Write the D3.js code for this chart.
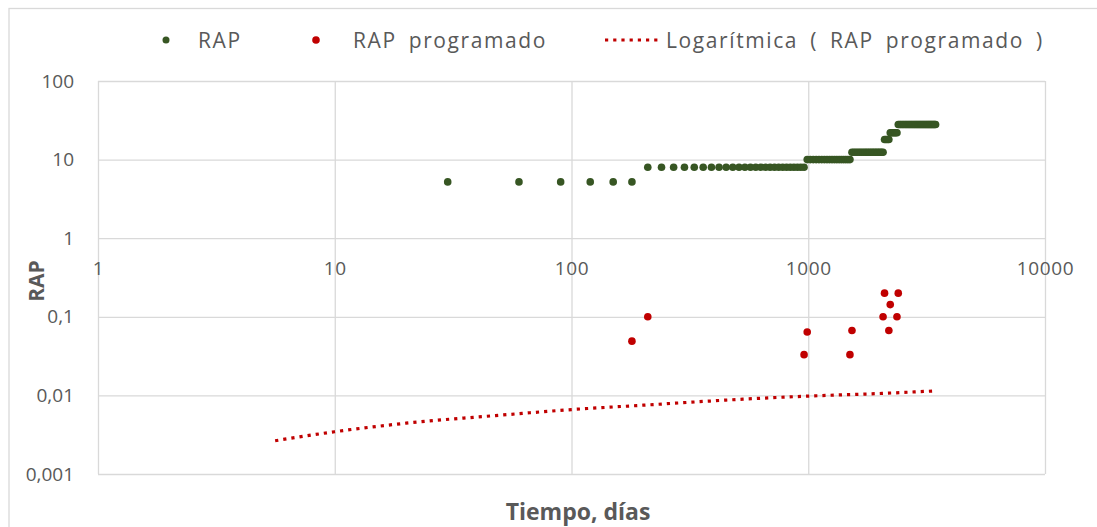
<!DOCTYPE html>
<html>
<head>
<meta charset="utf-8">
<script src="https://cdn.jsdelivr.net/npm/d3@7"></script>
<style>
  body { margin: 0; background: #fff; }
  text { font-family: "Open Sans", sans-serif; }
</style>
</head>
<body>
<div class="chart"></div>
<script>
var w = 1097;
var h = 527;

// RAP (monthly readings)
var rapDays = [30, 60, 90, 120, 150, 180,
  210, 240, 270, 300, 330, 360, 390, 420, 450, 480, 510, 540, 570, 600, 630, 660, 690, 720, 750, 780, 810, 840, 870, 900, 930, 960,
  990, 1020, 1050, 1080, 1110, 1140, 1170, 1200, 1230, 1260, 1290, 1320, 1350, 1380, 1410, 1440, 1470, 1500,
  1530, 1560, 1590, 1620, 1650, 1680, 1710, 1740, 1770, 1800, 1830, 1860, 1890, 1920, 1950, 1980, 2010, 2040, 2070,
  2100, 2130, 2160, 2190,
  2220, 2250, 2280, 2310, 2340, 2370,
  2400, 2430, 2460, 2490, 2520, 2550, 2580, 2610, 2640, 2670, 2700, 2730, 2760, 2790, 2820, 2850, 2880, 2910, 2940, 2970,
  3000, 3030, 3060, 3090, 3120, 3150, 3180, 3210, 3240, 3270, 3300, 3330, 3360, 3390, 3420, 3450];
var rapValues = [5.2, 5.2, 5.2, 5.2, 5.2, 5.2,
  8, 8, 8, 8, 8, 8, 8, 8, 8, 8, 8, 8, 8, 8, 8, 8, 8, 8, 8, 8, 8, 8, 8, 8, 8, 8,
  10, 10, 10, 10, 10, 10, 10, 10, 10, 10, 10, 10, 10, 10, 10, 10, 10, 10,
  12.4, 12.4, 12.4, 12.4, 12.4, 12.4, 12.4, 12.4, 12.4, 12.4, 12.4, 12.4, 12.4, 12.4, 12.4, 12.4, 12.4, 12.4, 12.4,
  18, 18, 18, 18,
  22, 22, 22, 22, 22, 22,
  28, 28, 28, 28, 28, 28, 28, 28, 28, 28, 28, 28, 28, 28, 28, 28, 28, 28, 28, 28,
  28, 28, 28, 28, 28, 28, 28, 28, 28, 28, 28, 28, 28, 28, 28, 28];

// RAP programado
var progDays = [180, 210, 960, 990, 1500, 1530, 2070, 2100, 2190, 2220, 2370, 2400];
var progValues = [0.049, 0.1, 0.033, 0.064, 0.033, 0.067, 0.1, 0.2, 0.067, 0.143, 0.1, 0.2];

// Logarítmica (RAP programado)
var trendDays = [5.6, 10, 20, 50, 100, 200, 500, 1000, 2000, 3430];
var trendValues = [0.00265, 0.00345, 0.00443, 0.0056, 0.0066, 0.0075, 0.00887, 0.0098, 0.01057, 0.0114];

var xTicks = [1, 10, 100, 1000, 10000];
var yTicks = [100, 10, 1, 0.1, 0.01, 0.001];
var yTickLabels = ["100", "10", "1", "0,1", "0,01", "0,001"];

var legendLabels = ["RAP", "RAP programado", "Logarítmica ( RAP programado )"];

var green = "#375623";
var red = "#C00000";
var grid = "#d9d9d9";
var textColor = "#595959";

var xScale = d3.scaleLog()
                .domain([1, 10000])
                .range([98, 1045]);

var yScale = d3.scaleLog()
                .domain([0.001, 100])
                .range([474, 81]);

var svg = d3.select(".chart")
            .append("svg")
            .attr("width", w)
            .attr("height", h);

// chart border
svg.append("rect")
    .attr("x", 9)
    .attr("y", 8.5)
    .attr("width", w + 20)
    .attr("height", h + 20)
    .attr("fill", "#fff")
    .attr("stroke", grid)
    .attr("stroke-width", 1.3);

// gridlines
svg.append("g")
    .attr("transform", "translate(" + xScale(1) + ",0)")
    .call(d3.axisLeft(yScale).tickValues(yTicks).tickSize(-(xScale(10000) - xScale(1))).tickFormat(""))
    .call(function (g) {
        g.select(".domain").remove();
        g.selectAll("line").attr("stroke", grid).attr("stroke-width", 1.3);
    });

svg.append("g")
    .attr("transform", "translate(0," + yScale(100) + ")")
    .call(d3.axisBottom(xScale).tickValues(xTicks).tickSize(yScale(0.001) - yScale(100)).tickFormat(""))
    .call(function (g) {
        g.select(".domain").remove();
        g.selectAll("line").attr("stroke", grid).attr("stroke-width", 1.3);
    });

// y tick labels
svg.append("g")
    .attr("transform", "translate(" + xScale(1) + ",0)")
    .call(d3.axisLeft(yScale).tickValues(yTicks).tickSize(0).tickPadding(24)
        .tickFormat(function (d, i) { return yTickLabels[i]; }))
    .call(function (g) {
        g.select(".domain").remove();
        g.selectAll("text")
            .attr("font-family", "'Open Sans', sans-serif")
            .attr("font-size", "19px")
            .attr("fill", textColor);
    });

// x tick labels, sitting under the y = 1 line
svg.append("g")
    .attr("transform", "translate(0," + yScale(1) + ")")
    .call(d3.axisBottom(xScale).tickValues(xTicks).tickSize(0).tickPadding(23)
        .tickFormat(function (d) { return String(d); }))
    .call(function (g) {
        g.select(".domain").remove();
        g.selectAll("text")
            .attr("font-family", "'Open Sans', sans-serif")
            .attr("font-size", "19px")
            .attr("letter-spacing", "0.6px")
            .attr("fill", textColor);
    });

// trendline
var trend = d3.range(trendDays.length).map(function (i) { return [trendDays[i], trendValues[i]]; });
svg.append("path")
    .datum(trend)
    .attr("d", d3.line()
        .x(function (d) { return xScale(d[0]); })
        .y(function (d) { return yScale(d[1]); })
        .curve(d3.curveMonotoneX))
    .attr("fill", "none")
    .attr("stroke", red)
    .attr("stroke-width", 3.2)
    .attr("stroke-dasharray", "3.2,5");

// RAP
svg.selectAll("circle.rap")
    .data(rapDays)
    .enter()
    .append("circle")
    .attr("class", "rap")
    .attr("cx", function (d) { return xScale(d); })
    .attr("cy", function (d, i) { return yScale(rapValues[i]); })
    .attr("r", 3.8)
    .attr("fill", green);

// RAP programado
svg.selectAll("circle.prog")
    .data(progDays)
    .enter()
    .append("circle")
    .attr("class", "prog")
    .attr("cx", function (d) { return xScale(d); })
    .attr("cy", function (d, i) { return yScale(progValues[i]); })
    .attr("r", 3.8)
    .attr("fill", red);

// axis titles
svg.append("text")
    .text("Tiempo, días")
    .attr("x", 578)
    .attr("y", 520)
    .attr("text-anchor", "middle")
    .attr("font-size", "23px")
    .attr("font-weight", "bold")
    .attr("fill", textColor);

svg.append("text")
    .text("RAP")
    .attr("transform", "translate(44,281) rotate(-90)")
    .attr("text-anchor", "middle")
    .attr("font-size", "21px")
    .attr("font-weight", "bold")
    .attr("fill", textColor);

// legend
var legend = svg.append("g");
legend.append("circle").attr("cx", 166).attr("cy", 40).attr("r", 3.5).attr("fill", green);
legend.append("circle").attr("cx", 316).attr("cy", 40).attr("r", 3.8).attr("fill", red);
legend.append("line")
    .attr("x1", 605).attr("x2", 661)
    .attr("y1", 40).attr("y2", 40)
    .attr("stroke", red)
    .attr("stroke-width", 3.2)
    .attr("stroke-dasharray", "3.2,5");

var legendX = [198, 353, 666];
legend.selectAll("text")
    .data(legendLabels)
    .enter()
    .append("text")
    .text(function (d) { return d; })
    .attr("x", function (d, i) { return legendX[i]; })
    .attr("y", 47.5)
    .attr("font-size", "21px")
    .attr("letter-spacing", "1.6px")
    .attr("word-spacing", "5px")
    .attr("fill", textColor);
</script>
</body>
</html>
